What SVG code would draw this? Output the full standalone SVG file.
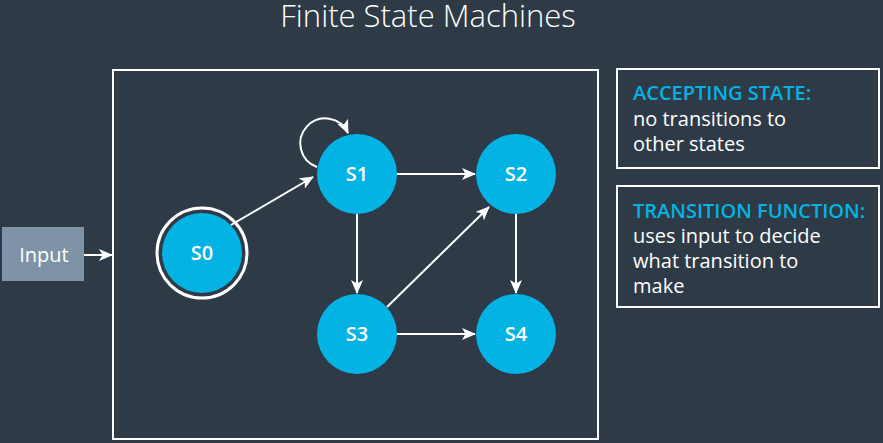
<svg xmlns="http://www.w3.org/2000/svg" width="883" height="443" viewBox="0 0 883 443">
<defs>
<marker id="ah" viewBox="0 0 14 12" refX="13" refY="6" markerWidth="14" markerHeight="12" markerUnits="userSpaceOnUse" orient="auto">
<path d="M0,0 L14,6 L0,12 L3.5,6 Z" fill="#ffffff"/>
</marker>
<style>
.title{font-family:"Open Sans","Liberation Sans",sans-serif;font-size:31px;font-weight:300;fill:#ffffff}
.st{fill:#02b3e4}
.lbl{font-family:"Open Sans","Liberation Sans",sans-serif;font-size:20px;font-weight:600;fill:#ffffff;text-anchor:middle}
.edge{stroke:#ffffff;stroke-width:2;fill:none;marker-end:url(#ah)}
.box{fill:none;stroke:#ffffff;stroke-width:2}
.hd{font-family:"Open Sans","Liberation Sans",sans-serif;font-size:20px;font-weight:600;fill:#02b3e4}
.tx{font-family:"Open Sans","Liberation Sans",sans-serif;font-size:20px;fill:#ffffff}
</style>
</defs>
<rect width="883" height="443" fill="#2e3b47"/>
<text class="title" x="428" y="27" text-anchor="middle">Finite State Machines</text>
<rect class="box" x="113" y="70" width="485" height="369"/>
<g id="input">
<rect x="2" y="227" width="82" height="54" fill="#7f93a6"/>
<text class="tx" x="44" y="262" text-anchor="middle">Input</text>
</g>
<g id="S0">
<circle cx="202" cy="253" r="45" fill="none" stroke="#ffffff" stroke-width="3"/>
<circle class="st" cx="202" cy="253" r="40"/>
<text class="lbl" x="202" y="260">S0</text>
</g>
<g id="S1">
<circle class="st" cx="357" cy="174" r="40"/>
<text class="lbl" x="357" y="181">S1</text>
</g>
<g id="S2">
<circle class="st" cx="516" cy="174" r="40"/>
<text class="lbl" x="516" y="181">S2</text>
</g>
<g id="S3">
<circle class="st" cx="357" cy="334" r="40"/>
<text class="lbl" x="357" y="341">S3</text>
</g>
<g id="S4">
<circle class="st" cx="516" cy="334" r="40"/>
<text class="lbl" x="516" y="341">S4</text>
</g>
<g id="connectors">
<line class="edge" x1="84" y1="255" x2="112" y2="255"/>
<line class="edge" x1="231" y1="225" x2="313" y2="177"/>
<path class="edge" d="M317,167 A25,25 0 1 1 348,133"/>
<line class="edge" x1="397" y1="174" x2="475" y2="174"/>
<line class="edge" x1="357" y1="214" x2="357" y2="293"/>
<line class="edge" x1="387" y1="307" x2="489" y2="207"/>
<line class="edge" x1="397" y1="334" x2="475" y2="334"/>
<line class="edge" x1="516" y1="214" x2="516" y2="293"/>
</g>
<g id="legend-accepting">
<rect class="box" x="617" y="69" width="262" height="99"/>
<text class="hd" x="633" y="100">ACCEPTING STATE:</text>
<text class="tx" x="633" y="126">no transitions to</text>
<text class="tx" x="633" y="151">other states</text>
</g>
<g id="legend-transition">
<rect class="box" x="617" y="186" width="262" height="121"/>
<text class="hd" x="633" y="218">TRANSITION FUNCTION:</text>
<text class="tx" x="633" y="243">uses input to decide</text>
<text class="tx" x="633" y="268">what transition to</text>
<text class="tx" x="633" y="293">make</text>
</g>
</svg>
